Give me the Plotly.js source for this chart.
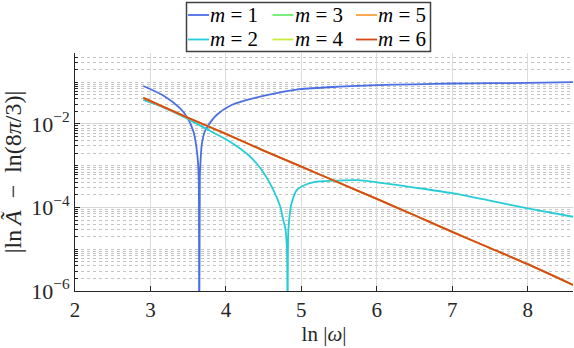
<!DOCTYPE html>
<html>
<head>
<meta charset="utf-8">
<script src="https://cdn.plot.ly/plotly-3.0.1.min.js"></script>
<style>html,body{margin:0;padding:0;background:#fff;}</style>
</head>
<body>
<div id="chart" style="width:574px;height:348px;"></div>
<script>
// values (x = ln|w|, y = |ln A~ - ln(8pi/3)|)
var xTickVals = [2, 3, 4, 5, 6, 7, 8];
var yTickVals = [1e-6, 1e-4, 1e-2];
var yTickText = ['10<sup>−6</sup>', '10<sup>−4</sup>', '10<sup>−2</sup>'];

var m1X = [2.905, 3.17, 3.39, 3.48, 3.57, 3.61, 3.63, 3.64, 3.646, 3.655, 3.665, 3.68, 3.72, 3.77, 3.88, 4.05, 4.27, 4.54, 4.98, 5.5, 6.0, 6.5, 7.0, 7.5, 8.0, 8.6];
var m1Y = [8.1e-2, 4.8e-2, 2.4e-2, 1.5e-2, 6.6e-3, 2.7e-3, 1.2e-3, 4.5e-4, 1e-9, 6e-4, 1.4e-3, 3.2e-3, 6.6e-3, 9.5e-3, 1.66e-2, 2.7e-2, 3.7e-2, 4.9e-2, 6.8e-2, 7.8e-2, 8.5e-2, 8.9e-2, 9.3e-2, 9.45e-2, 9.6e-2, 1.0e-1];

var m2X = [2.905, 3.17, 3.4, 3.61, 3.85, 4.05, 4.32, 4.49, 4.63, 4.72, 4.76, 4.79, 4.81, 4.817, 4.825, 4.84, 4.87, 4.94, 5.07, 5.24, 5.47, 5.75, 6.0, 6.5, 7.0, 7.5, 8.0, 8.6];
var m2Y = [3.76e-2, 2.5e-2, 1.6e-2, 1.02e-2, 6.0e-3, 3.8e-3, 1.66e-3, 7.2e-4, 2.6e-4, 1.05e-4, 5e-5, 3e-5, 8e-6, 1e-9, 2e-5, 5.5e-5, 1.26e-4, 2.6e-4, 3.6e-4, 4.2e-4, 4.4e-4, 4.5e-4, 4.0e-4, 3.0e-4, 2.2e-4, 1.45e-4, 9.5e-5, 6.0e-5];

// m = 3 ... 6 lie on one straight line in the picture
var steepX = [2.905, 3.5, 4, 4.5, 5, 5.5, 6, 6.5, 7, 7.5, 8, 8.6];
var steepY = [4.2e-2, 1.4e-2, 5.8e-3, 2.3e-3, 9.5e-4, 3.9e-4, 1.6e-4, 6.5e-5, 2.6e-5, 1.07e-5, 4.4e-6, 1.4e-6];

var names = ['1', '2', '3', '4', '5', '6'];
var colors = ['#4a6fe3', '#27cdd6', '#6ded6a', '#c9ea3e', '#ff9f40', '#d8481b'];
var xs = [m1X, m2X, steepX, steepX, steepX, steepX];
var ys = [m1Y, m2Y, steepY, steepY, steepY, steepY];

var font = "'Liberation Serif', 'Times New Roman', serif";
var ink = '#262626';

var traces = [];
for (var i = 0; i < 6; i++) {
  traces.push({
    x: xs[i], y: ys[i],
    type: 'scatter', mode: 'lines',
    name: 'm = ' + names[i],
    line: {color: colors[i], width: 1.8, shape: 'spline', smoothing: 0.7}
  });
}

var minorVals = [];
for (var e = -6; e <= 0; e++) {
  for (var k = 1; k <= 9; k++) minorVals.push(k * Math.pow(10, e));
}

// legend box drawn by hand: 3 columns x 2 rows, column-major like the reference
var W = 574, H = 348, mL = 75, mR = 1, mT = 53, mB = 57;
var pw = W - mL - mR, ph = H - mT - mB;
function px(v) { return (v - mL) / pw; }
function py(v) { return (H - mB - v) / ph; }

var colStart = [188, 272.5, 356];
var rowY = [15, 39.5];
var shapes = [{
  type: 'rect', xref: 'paper', yref: 'paper',
  x0: px(186.5), x1: px(430.5), y0: py(51.5), y1: py(2.5),
  line: {color: '#404040', width: 1.5}, fillcolor: 'rgba(0,0,0,0)'
}];
var annotations = [];
for (var j = 0; j < 6; j++) {
  var c = Math.floor(j / 2), r = j % 2;
  shapes.push({
    type: 'line', xref: 'paper', yref: 'paper',
    x0: px(colStart[c]), x1: px(colStart[c] + 21), y0: py(rowY[r]), y1: py(rowY[r]),
    line: {color: colors[j], width: 1.8}
  });
  annotations.push({
    xref: 'paper', yref: 'paper', x: px(colStart[c] + 21), y: py(rowY[r]),
    xanchor: 'left', yanchor: 'middle', showarrow: false, borderpad: 0,
    text: '<i>m</i> = ' + names[j],
    font: {family: font, size: 21, color: '#000'}
  });
}

var layout = {
  width: W, height: H,
  margin: {l: mL, r: mR, t: mT, b: mB},
  paper_bgcolor: '#fff', plot_bgcolor: '#fff',
  font: {family: font, size: 21, color: ink},
  showlegend: false,
  xaxis: {
    range: [2, 8.6],
    tickmode: 'array', tickvals: xTickVals,
    ticks: 'inside', ticklen: 5, tickcolor: ink,
    showline: true, linecolor: ink, linewidth: 1,
    showgrid: true, gridcolor: '#dcdcdc', gridwidth: 1,
    zeroline: false,
    tickfont: {family: font, size: 21, color: ink},
    title: {text: 'ln |<i>ω</i>|', font: {family: font, size: 21, color: ink}, standoff: 4}
  },
  yaxis: {
    type: 'log', range: [-6, Math.log10(0.5)],
    tickmode: 'array', tickvals: yTickVals, ticktext: yTickText,
    ticks: 'inside', ticklen: 5, tickcolor: ink,
    showline: true, linecolor: ink, linewidth: 1,
    showgrid: true, gridcolor: '#d6d6d6', gridwidth: 1,
    zeroline: false,
    minor: {tickmode: 'array', tickvals: minorVals, ticks: 'inside', ticklen: 3,
            tickcolor: ink, showgrid: true, gridcolor: '#c4c4c4', griddash: 'dot', gridwidth: 1},
    tickfont: {family: font, size: 22, color: ink},
    title: {text: '|ln\u2009<i>Ã</i>\u2002−\u2002ln(8<i>π</i>/3)|', font: {family: font, size: 24, color: ink}, standoff: 2}
  },
  shapes: shapes,
  annotations: annotations
};

Plotly.newPlot('chart', traces, layout, {displayModeBar: false, staticPlot: true});
</script>
</body>
</html>
